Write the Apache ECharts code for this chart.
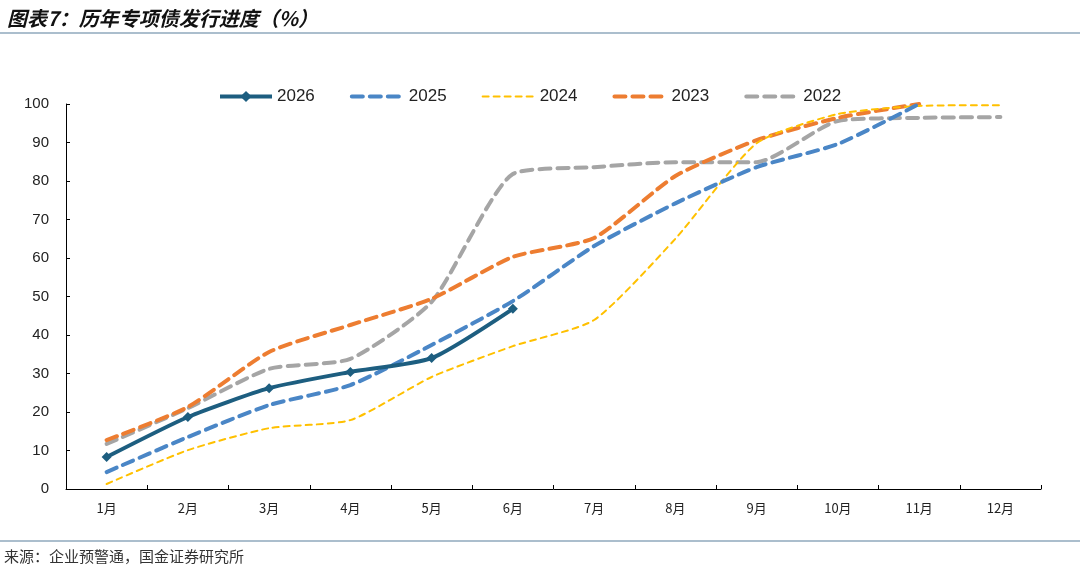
<!DOCTYPE html>
<html>
<head>
<meta charset="utf-8">
<script src="https://cdn.jsdelivr.net/npm/echarts@6/dist/echarts.min.js"></script>
<style>
  html, body { margin: 0; padding: 0; background: #fff; }
  #chart { width: 1080px; height: 572px; }
</style>
</head>
<body>
<div id="chart"></div>
<script>
// 月份
const months = ['1月', '2月', '3月', '4月', '5月', '6月', '7月', '8月', '9月', '10月', '11月', '12月']

// 各年专项债发行进度（%）
const y2026 = [8.3, 18.7, 26.2, 30.4, 34.0, 46.8]
const y2025 = [4.4, 13.5, 21.8, 27.0, 37.4, 48.8, 63.1, 74.2, 83.6, 89.6, 100]
const y2024 = [1.3, 10.1, 15.8, 17.9, 29.1, 37.1, 43.9, 65.0, 89.8, 97.4, 99.5, 99.7]
const y2023 = [12.7, 21.3, 35.6, 42.6, 49.4, 60.3, 65.2, 81.3, 90.6, 96.4, 100]
const y2022 = [11.7, 21.0, 31.2, 33.8, 48.6, 81.8, 83.6, 84.9, 84.9, 95.6, 96.4, 96.6]

const yTicks = [0, 10, 20, 30, 40, 50, 60, 70, 80, 90, 100]

const chart = echarts.init(document.getElementById('chart'))

function dashed(name, data, color, width, dash, z) {
  return {
    name: name,
    type: 'line',
    data: data,
    smooth: 0.2,
    symbol: 'none',
    z: z,
    lineStyle: { color: color, width: width, type: dash, cap: 'round' },
    itemStyle: { color: color }
  }
}

// 图例：虚线不显示圆点
function legendItem(name, width) {
  return { name: name, itemStyle: { opacity: 0 }, lineStyle: { width: width } }
}

chart.setOption({
  animation: false,
  textStyle: { fontFamily: 'Arial, "Liberation Sans", sans-serif' },
  title: {
    text: '图表7：历年专项债发行进度（%）',
    left: 2,
    top: 3,
    textStyle: {
      fontFamily: '"Noto Sans CJK SC", sans-serif',
      fontSize: 20,
      fontWeight: 'bold',
      fontStyle: 'italic',
      color: '#111'
    }
  },
  graphic: [
    { type: 'line', shape: { x1: 0, y1: 33, x2: 1080, y2: 33 }, style: { stroke: '#8FA8BC', lineWidth: 1.5 } },
    { type: 'line', shape: { x1: 0, y1: 541, x2: 1080, y2: 541 }, style: { stroke: '#8FA8BC', lineWidth: 1.5 } },
    {
      type: 'text', left: 4, top: 549,
      style: { text: '来源：企业预警通，国金证券研究所', fontSize: 15, fill: '#333', fontFamily: '"Noto Sans CJK SC", serif' }
    }
  ],
  legend: {
    data: [
      { name: '2026', lineStyle: { width: 4 } },
      legendItem('2025', 4),
      legendItem('2024', 2),
      legendItem('2023', 4),
      legendItem('2022', 4)
    ],
    top: 83,
    left: 213,
    itemWidth: 52,
    itemHeight: 14,
    itemGap: 35,
    textStyle: { fontSize: 17, color: '#222', fontFamily: 'Arial, "Liberation Sans", sans-serif' }
  },
  grid: { left: 66, right: 39, top: 104, bottom: 83 },
  xAxis: {
    type: 'category',
    data: months,
    boundaryGap: true,
    axisLine: { lineStyle: { color: '#000', width: 1 } },
    axisTick: { show: true, inside: true, length: 4, lineStyle: { color: '#000' } },
    axisLabel: { fontSize: 13, color: '#222', margin: 13, fontFamily: '"Noto Sans CJK SC", Arial, sans-serif' },
    splitLine: { show: false }
  },
  yAxis: {
    type: 'value',
    min: yTicks[0],
    max: yTicks[yTicks.length - 1],
    interval: 10,
    axisLine: { show: true, lineStyle: { color: '#000', width: 1 } },
    axisTick: { show: true, inside: true, length: 4, lineStyle: { color: '#000' } },
    axisLabel: { fontSize: 15, color: '#222', margin: 17 },
    splitLine: { show: false }
  },
  series: [
    dashed('2022', y2022, '#A5A5A5', 4, [11, 7], 2),
    dashed('2023', y2023, '#ED7D31', 4, [11, 7], 3),
    dashed('2024', y2024, '#FFC000', 2, [6, 5], 4),
    dashed('2025', y2025, '#4A86C6', 4, [11, 7], 5),
    {
      name: '2026',
      type: 'line',
      data: y2026,
      smooth: 0.2,
      z: 6,
      symbol: 'diamond',
      symbolSize: 10,
      lineStyle: { color: '#1D5E80', width: 4 },
      itemStyle: { color: '#1D5E80' }
    }
  ]
})
</script>
</body>
</html>
